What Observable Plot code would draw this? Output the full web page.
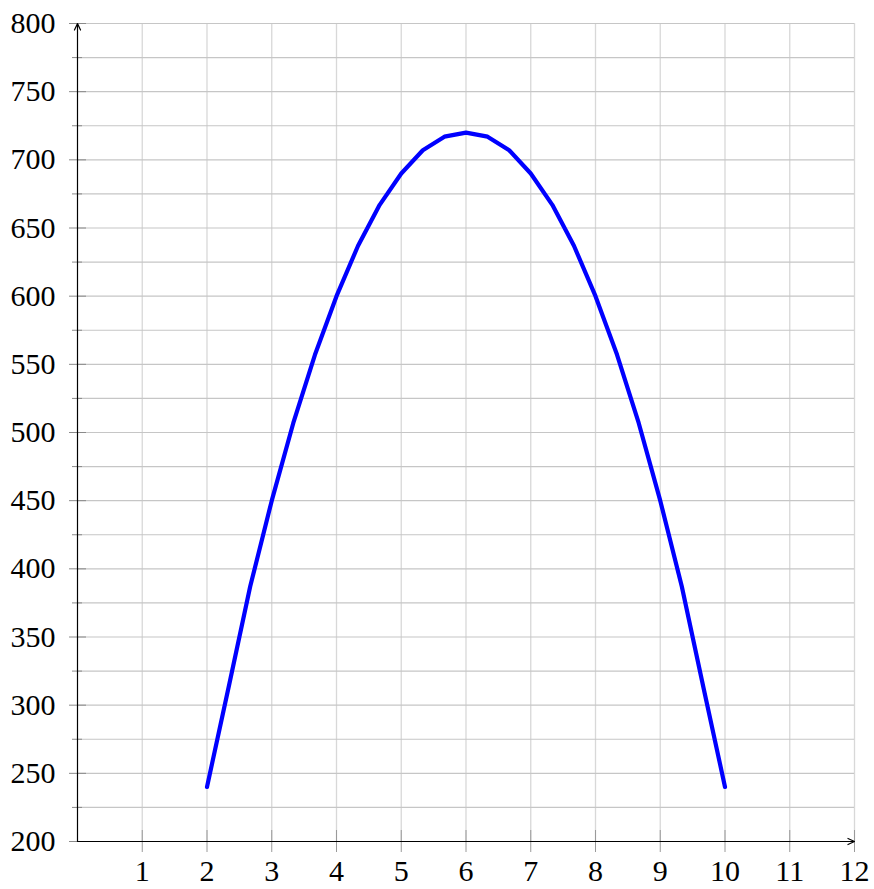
<!DOCTYPE html>
<html>
<head>
<meta charset="utf-8">
<script src="https://cdn.jsdelivr.net/npm/d3@7"></script>
<script src="https://cdn.jsdelivr.net/npm/@observablehq/plot@0.6"></script>
<style>
  html, body { margin: 0; padding: 0; background: #fff; }
  #chart svg { display: block; }
</style>
</head>
<body>
<div id="chart"></div>
<script>
const xValues = [2, 2.333, 2.667, 3, 3.333, 3.667, 4, 4.333, 4.667, 5, 5.333, 5.667, 6,
                 6.333, 6.667, 7, 7.333, 7.667, 8, 8.333, 8.667, 9, 9.333, 9.667, 10];
const yValues = [240, 313, 387, 450, 507, 557, 600, 637, 667, 690, 707, 717, 720,
                 717, 707, 690, 667, 637, 600, 557, 507, 450, 387, 313, 240];
const xTicks = [1, 2, 3, 4, 5, 6, 7, 8, 9, 10, 11, 12];
const yLabels = [200, 250, 300, 350, 400, 450, 500, 550, 600, 650, 700, 750, 800];
const yMinor = [225, 275, 325, 375, 425, 475, 525, 575, 625, 675, 725, 775];
const yGrid = [225, 250, 275, 300, 325, 350, 375, 400, 425, 450, 475, 500, 525, 550,
               575, 600, 625, 650, 675, 700, 725, 750, 775, 800];

const data = xValues.map((x, i) => ({x, y: yValues[i]}));
const empty = () => "";

const chart = Plot.plot({
  width: 874,
  height: 889,
  marginLeft: 77,
  marginRight: 20,
  marginTop: 23,
  marginBottom: 48,
  style: {fontFamily: "'Liberation Serif', 'Times New Roman', serif", fontSize: "30px", background: "#fff"},
  x: {domain: [0, 12], label: null},
  y: {domain: [200, 800], label: null},
  marks: [
    Plot.ruleX(xTicks, {stroke: "#d8d8d8", strokeWidth: 1.3}),
    Plot.ruleY(yGrid, {x1: 0, x2: 12, stroke: "#c6c6c6", strokeWidth: 1.2}),
    Plot.axisY(yLabels, {tickSize: 17, dx: 9, stroke: "#8a8a8a", tickFormat: empty, label: null}),
    Plot.axisY(yMinor, {tickSize: 10, dx: 5, stroke: "#8a8a8a", tickFormat: empty, label: null}),
    Plot.axisY(yLabels, {tickSize: 0, tickPadding: 22, fill: "#000", fontSize: 30, label: null}),
    Plot.axisX(xTicks, {tickSize: 22, dy: -11, stroke: "#9a9a9a", tickFormat: empty, label: null}),
    Plot.axisX(xTicks, {tickSize: 0, tickPadding: 18, fill: "#000", fontSize: 30, label: null}),
    Plot.arrow([0], {x1: 0, y1: 200, x2: 12, y2: 200, stroke: "#000", strokeWidth: 1.2, headLength: 9, headAngle: 50}),
    Plot.arrow([0], {x1: 0, y1: 200, x2: 0, y2: 800, stroke: "#000", strokeWidth: 1.2, headLength: 9, headAngle: 50}),
    Plot.line(data, {x: "x", y: "y", stroke: "#0000ff", strokeWidth: 4.2, strokeLinejoin: "round"})
  ]
});
document.getElementById("chart").appendChild(chart);
</script>
</body>
</html>
